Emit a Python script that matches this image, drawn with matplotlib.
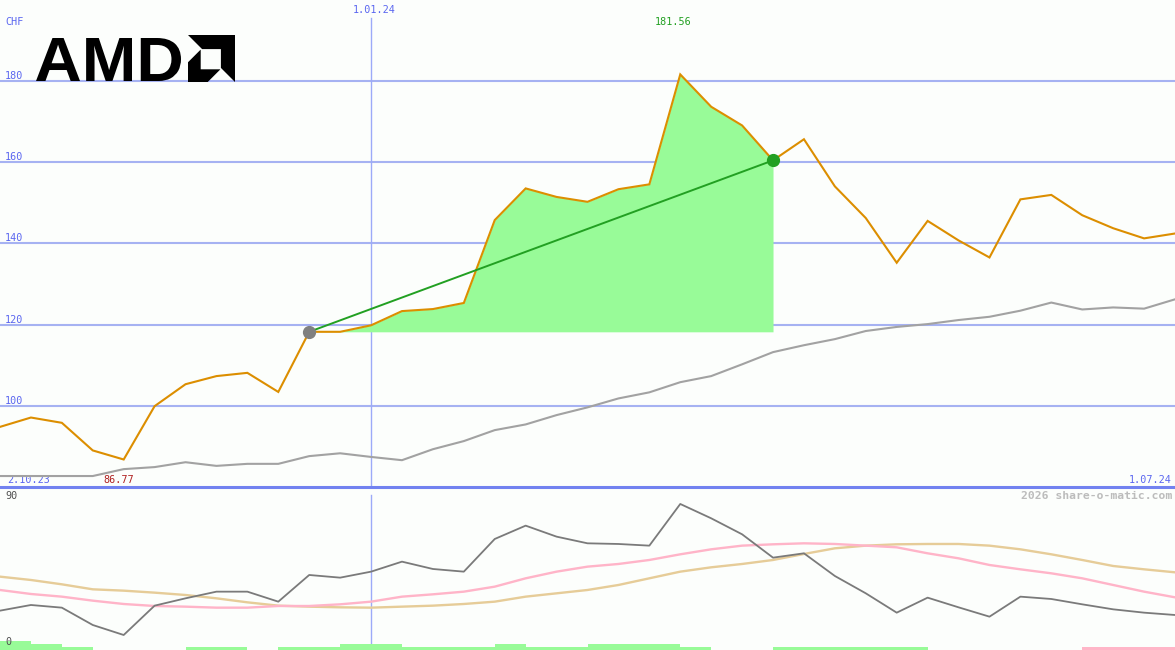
import matplotlib

matplotlib.use("Agg")
import matplotlib.pyplot as plt
import numpy as np
from matplotlib.font_manager import FontProperties
from matplotlib.patches import PathPatch, Polygon
from matplotlib.textpath import TextPath
from matplotlib.transforms import Affine2D

# weekly closes in CHF, 2.10.23 .. 1.07.24
price = [94.8, 97.1, 95.8, 89.0, 86.77, 99.9, 105.3, 107.3, 108.1, 103.4,
         118.2, 118.2, 119.8, 123.3, 123.8, 125.3, 145.7, 153.5, 151.4, 150.2,
         153.3, 154.5, 181.56, 173.6, 169.0, 160.4, 165.6, 154.0, 146.2, 135.2,
         145.5, 140.7, 136.5, 150.8, 151.9, 146.9, 143.7, 141.2, 142.4]
# long moving average (grey)
avg_long = [82.7, 82.7, 82.7, 82.7, 84.4, 84.9, 86.1, 85.2, 85.7, 85.7,
            87.6, 88.3, 87.4, 86.6, 89.3, 91.3, 94.0, 95.4, 97.7, 99.6,
            101.8, 103.3, 105.8, 107.3, 110.2, 113.2, 114.9, 116.4, 118.4, 119.4,
            120.1, 121.1, 121.9, 123.4, 125.4, 123.7, 124.2, 123.9, 126.2]
# oscillator panel (0..90)
osc = [21.2, 24.6, 23.0, 12.6, 6.6, 24.2, 28.6, 32.6, 32.6, 26.6,
       42.6, 41.0, 44.6, 50.6, 46.2, 44.6, 64.2, 72.2, 65.6, 61.6,
       61.2, 60.2, 85.2, 76.6, 67.0, 53.0, 55.6, 42.0, 31.6, 20.0,
       29.0, 23.2, 17.6, 29.6, 28.2, 25.0, 22.0, 20.0, 18.6]
osc_fast = [33.6, 31.2, 29.6, 27.2, 25.2, 24.0, 23.6, 23.0, 23.0, 24.0,
            24.0, 25.0, 26.6, 29.6, 31.0, 32.6, 35.6, 40.6, 44.6, 47.6,
            49.2, 51.6, 55.0, 58.0, 60.2, 61.0, 61.6, 61.2, 60.2, 59.2,
            55.6, 52.6, 48.6, 46.0, 43.6, 40.6, 36.6, 32.6, 29.2]
osc_slow = [41.6, 39.6, 37.0, 34.0, 33.2, 32.0, 30.6, 28.6, 26.2, 24.2,
            23.6, 23.2, 23.0, 23.6, 24.2, 25.2, 26.6, 29.6, 31.6, 33.6,
            36.6, 40.6, 44.6, 47.2, 49.2, 51.6, 55.2, 58.6, 60.2, 61.0,
            61.2, 61.2, 60.2, 58.0, 55.0, 51.6, 48.0, 46.0, 44.2]
# signal strength per week (negative = sell, pink)
signal = [3, 2, 1, 0, 0, 0, 1, 1, 0, 1, 1, 2, 2, 1, 1, 1, 2, 1, 1, 2,
          2, 2, 1, 0, 0, 1, 1, 1, 1, 1, 0, 0, 0, 0, 0, -1, -1, -1]

y_ticks = [100, 120, 140, 160, 180]
trend_start, trend_end = 10, 25
year_mark = 12
start_label, end_label, year_label = "2.10.23", "1.07.24", "1.01.24"

BG = "#fcfefc"
BLUE_TXT = "#5a66f0"
GRID = "#a6b2f2"
VLINE = "#9caaf8"
SEP = "#7282f0"
MONO = "DejaVu Sans Mono"

W, H = 1175, 650
fig = plt.figure(figsize=(W / 100, H / 100), dpi=100, facecolor=BG)

top_h = 487
ax = fig.add_axes([0, (H - top_h) / H, 1, top_h / H])
ax2 = fig.add_axes([0, 0, 1, (H - 489) / H])
for a in (ax, ax2):
    a.set_facecolor(BG)
    a.axis("off")

x = np.arange(len(price))
p = np.array(price)
ax.set_xlim(0, len(price) - 1)
ax.set_ylim(80, 80 + top_h / 4.0625)

for v in y_ticks:
    ax.axhline(v, color=GRID, lw=1.5, zorder=1)
    ax.annotate(str(v), xy=(0, v), xycoords=("axes fraction", "data"), xytext=(5, 2),
                textcoords="offset pixels", va="baseline", ha="left",
                fontsize=7.3, family=MONO, color=BLUE_TXT)
ax.axhline(80, color=SEP, lw=2.2, zorder=6, clip_on=False)
ax.axvline(year_mark, ymax=1 - 18 / top_h, color=VLINE, lw=1.0, zorder=2)

# gain area between entry and exit
seg = slice(trend_start, trend_end + 1)
base = p[trend_start]
ax.fill_between(x[seg], base, p[seg], where=p[seg] >= base, interpolate=True,
                color="#98fb98", lw=0, zorder=2)

ax.plot(x, avg_long, color="#a2a2a2", lw=1.5, zorder=3)
ax.plot(x, p, color="#dc8e00", lw=1.5, zorder=4, solid_joinstyle="miter")
ax.plot([trend_start, trend_end], [p[trend_start], p[trend_end]], color="#22a022", lw=1.4, zorder=5)
ax.plot(trend_start, p[trend_start], "o", ms=8.5, color="#808080", zorder=6)
ax.plot(trend_end, p[trend_end], "o", ms=8.5, color="#22a022", zorder=6)

imax, imin = int(np.argmax(p)), int(np.argmin(p))
ax.annotate("CHF", xy=(0, 1), xycoords="axes fraction", xytext=(5, -25),
            textcoords="offset pixels", va="baseline", fontsize=7.3, family=MONO, color=BLUE_TXT)
ax.annotate(year_label, xy=(year_mark, 1), xycoords=("data", "axes fraction"), xytext=(3, -13),
            textcoords="offset pixels", va="baseline", ha="center", fontsize=7.3, family=MONO, color=BLUE_TXT)
ax.annotate(f"{p[imax]:.2f}", xy=(imax, 1), xycoords=("data", "axes fraction"), xytext=(-7, -25),
            textcoords="offset pixels", va="baseline", ha="center", fontsize=7.3, family=MONO, color="#22a022")
ax.annotate(f"{p[imin]:.2f}", xy=(imin, 80), xytext=(-5, 4), textcoords="offset pixels",
            va="baseline", ha="center", fontsize=7.3, family=MONO, color="#b02020")
ax.annotate(start_label, xy=(0, 80), xytext=(7, 4), textcoords="offset pixels",
            va="baseline", ha="left", fontsize=7.3, family=MONO, color=BLUE_TXT, zorder=2)
ax.annotate(end_label, xy=(1, 0), xycoords="axes fraction", xytext=(-3, 4), textcoords="offset pixels",
            va="baseline", ha="right", fontsize=7.3, family=MONO, color=BLUE_TXT)

# lower panel
ax2.set_xlim(0, len(price) - 1)
ymin2 = -2.4
ax2.set_ylim(ymin2, (646 - 489) / 1.667)
ax2.axvline(year_mark, ymax=0.96, color=VLINE, lw=1.0, zorder=1)
ax2.plot(x, osc_slow, color="#e6cc98", lw=1.7, zorder=2)
ax2.plot(x, osc_fast, color="#ffb4c8", lw=1.7, zorder=3)
ax2.plot(x, osc, color="#7a7a7a", lw=1.3, zorder=4)
sig = np.array(signal)
ax2.bar(np.arange(len(sig)), np.abs(sig) * 1.8, width=1.0, align="edge", bottom=ymin2,
        color=["#98fb98" if s > 0 else "#ffb6c8" for s in sig], lw=0, zorder=5)
ax2.annotate("90", xy=(0, 90), xycoords=("axes fraction", "data"), xytext=(5, -3),
             textcoords="offset pixels", va="baseline", fontsize=7.3, family=MONO, color="#505050")
ax2.annotate("0", xy=(0, 0), xycoords=("axes fraction", "data"), xytext=(5, 1),
             textcoords="offset pixels", va="baseline", fontsize=7.3, family=MONO, color="#505050", zorder=6)
ax2.annotate("2026 share-o-matic.com", xy=(1, 1), xycoords="axes fraction", xytext=(-3, -10),
             textcoords="offset pixels", va="baseline", ha="right", fontsize=8.2, family=MONO,
             weight="bold", color="#bcbcbc")

# logo overlay in pixel coordinates
ov = fig.add_axes([0, 0, 1, 1])
ov.set_xlim(0, W)
ov.set_ylim(H, 0)
ov.axis("off")
ov.patch.set_alpha(0)
tp = TextPath((0, 0), "AMD", size=1, prop=FontProperties(family="Liberation Sans", weight="bold"))
bb = tp.get_extents()
tr = Affine2D().translate(-bb.x0, -bb.y0).scale(145 / bb.width, -43 / bb.height).translate(36, 81)
ov.add_patch(PathPatch(tr.transform_path(tp), color="black", lw=0))
lx, ly, ls = 188, 82, 47
outer = [(0, 1), (1, 1), (1, 0), (0.70, 0.30), (0.70, 0.70), (0.30, 0.70)]
inner = [(0, 0), (0, 0.42), (0.27, 0.69), (0.27, 0.27), (0.69, 0.27), (0.42, 0)]
for shape in (outer, inner):
    ov.add_patch(Polygon([(lx + u * ls, ly - v * ls) for u, v in shape], closed=True,
                         color="black", lw=0))

fig.savefig("out.png", dpi=100, facecolor=BG)
